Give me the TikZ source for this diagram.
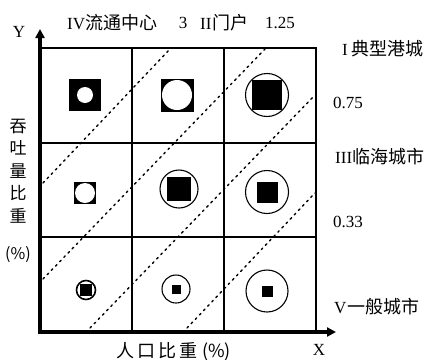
\documentclass[tikz,border=0pt]{standalone}
\usepackage{fontspec}
\setmainfont{Liberation Serif}
\newfontfamily\cjk{Noto Sans CJK SC}
\usetikzlibrary{arrows.meta}
\newcommand{\rn}[1]{{\rmfamily\fontsize{17}{20}\selectfont #1}}
\begin{document}
\begin{tikzpicture}[x=1pt,y=-1pt,
  axis/.style={line width=3.2pt,-{Triangle[length=9pt,width=9pt]}},
  gridline/.style={line width=1.4pt},
  diag/.style={line width=1.4pt,dash pattern=on 2pt off 4pt,line cap=round},
  ring/.style={line width=1.1pt},
  lbl/.style={inner sep=0pt,font=\fontsize{17}{20}\selectfont},
  cjklbl/.style={inner sep=0pt,font=\cjk\fontsize{18}{20}\selectfont}]
\useasboundingbox (0,0) rectangle (430,359);
% grid
\draw[gridline] (40,48) -- (316,48) -- (316,332);
\draw[gridline] (132,48) -- (132,332);
\draw[gridline] (224,48) -- (224,332);
\draw[gridline] (40,143) -- (316,143);
\draw[gridline] (40,237) -- (316,237);
% diagonals
\draw[diag] (43,183) -- (169,50);
\draw[diag] (43,279) -- (265,49);
\draw[diag] (90,328) -- (315,95);
\draw[diag] (187,328) -- (315,193);
% axes
\coordinate (O) at (40,332);
\coordinate (Ytip) at (40,29);
\coordinate (Xtip) at (336,332);
\draw[axis] ([yshift=1.6pt]O) -- (Ytip);
\draw[axis] ([xshift=-1.6pt]O) -- (Xtip);
% row 1
\fill (69,79) rectangle (101,111);
\fill[white] (85,95) circle[radius=8pt];
\fill (160.5,78.5) rectangle (193.5,111.5);
\fill[white] (177,95) circle[radius=15pt];
\fill (252,80) rectangle (282,110);
\draw[ring] (267,95) circle[radius=21.5pt];
% row 2
\fill (74,182) rectangle (96,204);
\fill[white] (85,193) circle[radius=10pt];
\draw[ring] (179,189) circle[radius=19pt];
\fill (167,177) rectangle (191,201);
\draw[ring] (267,192) circle[radius=21.5pt];
\fill (256.5,181.5) rectangle (277.5,202.5);
% row 3
\draw[line width=1.6pt] (86,290) circle[radius=9.5pt];
\fill (80,284) rectangle (92,296);
\draw[ring] (176,289) circle[radius=14pt];
\fill (171.5,284.5) rectangle (180.5,293.5);
\draw[ring] (267,291) circle[radius=21pt];
\fill (261.5,285.5) rectangle (272.5,296.5);
% texts
\node[lbl] (ylab) at (19,32) {Y};
\node[lbl] (xlab) at (319,350) {X};
\node[cjklbl,anchor=west] (t4) at (67,23) {\rn{IV}流通中心};
\node[lbl] (t3) at (183,23) {3};
\node[cjklbl,anchor=west] (t2) at (200,23) {\rn{II}\hspace{1pt}门户};
\node[lbl,anchor=west] (t125) at (265,23) {1.25};
\node[cjklbl,anchor=west] (t1) at (342,49) {\rn{I}\hspace{4pt}典型港城};
\node[lbl,anchor=west] (t075) at (333,103) {0.75};
\node[cjklbl,anchor=west] (t3c) at (335,157) {\rn{III}临海城市};
\node[lbl,anchor=west] (t033) at (333,222) {0.33};
\node[cjklbl,anchor=west] (t5) at (334,307) {\rn{V}\hspace{1pt}一般城市};
\node[cjklbl,align=center,font=\cjk\fontsize{17}{22.5}\selectfont] (ytitle) at (18,171) {吞\\吐\\量\\比\\重};
\node[cjklbl,font=\cjk\fontsize{16}{20}\selectfont] (ypct) at (18,255) {(\%)};
\node[cjklbl,anchor=west] (xtitle) at (116,352) {人\hspace{3pt}口\hspace{3pt}比\hspace{3pt}重\hspace{5pt}(\%)};
\end{tikzpicture}
\end{document}
